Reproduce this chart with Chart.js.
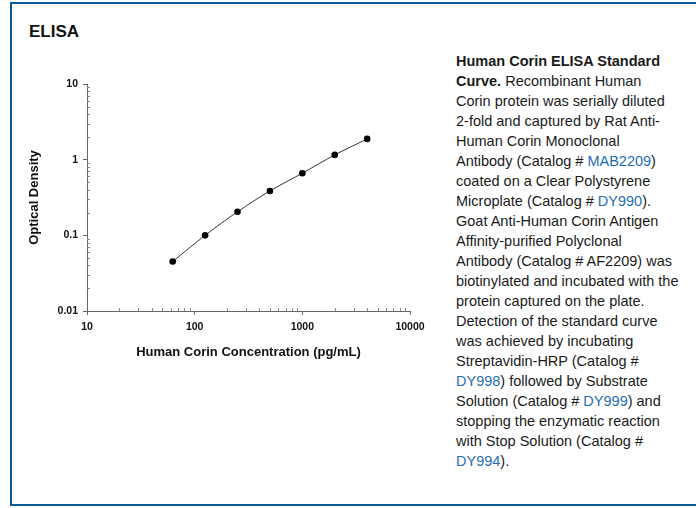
<!DOCTYPE html>
<html>
<head>
<meta charset="utf-8">
<script src="https://cdn.jsdelivr.net/npm/chart.js@4.4.1/dist/chart.umd.min.js"></script>
<style>
  html, body { margin:0; padding:0; background:#fff; }
  body { width:696px; height:508px; position:relative; overflow:hidden; font-family:"Liberation Sans", Arial, sans-serif; }
  #frame { position:absolute; left:10px; top:2px; width:760px; height:500px;
           border-left:2px solid #0a5a9b; border-top:2px solid #0a5a9b; border-bottom:2px solid #0a5a9b; }
  #title { position:absolute; left:29px; top:22px; font-size:17px; line-height:20px; font-weight:bold; color:#111; }
  #caption { position:absolute; left:456px; top:51px; font-size:14.5px; line-height:20px; color:#1a1a1a; white-space:nowrap; }
  #caption a { color:#1f6db4; text-decoration:none; }
  #wrap { position:absolute; left:0; top:0; width:440px; height:400px; }
</style>
</head>
<body>
<div id="frame"></div>
<div id="title">ELISA</div>
<div id="caption">
<b>Human Corin ELISA Standard<br>Curve.</b> Recombinant Human<br>
Corin protein was serially diluted<br>
2-fold and captured by Rat Anti-<br>
Human Corin Monoclonal<br>
Antibody (Catalog # <a>MAB2209</a>)<br>
coated on a Clear Polystyrene<br>
Microplate (Catalog # <a>DY990</a>).<br>
Goat Anti-Human Corin Antigen<br>
Affinity-purified Polyclonal<br>
Antibody (Catalog # AF2209) was<br>
biotinylated and incubated with the<br>
protein captured on the plate.<br>
Detection of the standard curve<br>
was achieved by incubating<br>
Streptavidin-HRP (Catalog #<br>
<a>DY998</a>) followed by Substrate<br>
Solution (Catalog # <a>DY999</a>) and<br>
stopping the enzymatic reaction<br>
with Stop Solution (Catalog #<br>
<a>DY994</a>).
</div>
<div id="wrap"><canvas id="c" width="440" height="400"></canvas></div>
<script>
// Data
const concentrations = [62.5, 125, 250, 500, 1000, 2000, 4000];
const opticalDensity = [0.045, 0.100, 0.205, 0.386, 0.662, 1.156, 1.88];
const xTicks = [10, 100, 1000, 10000];
const xTickLabels = ['10', '100', '1000', '10000'];
const yTicks = [0.01, 0.1, 1, 10];
const yTickLabels = ['0.01', '0.1', '1', '10'];
const xTitle = 'Human Corin Concentration (pg/mL)';
const yTitle = 'Optical Density';

const tickFont = { family: "'Liberation Sans', Arial, sans-serif", size: 10.5, weight: 'bold' };
const titleFont = { family: "'Liberation Sans', Arial, sans-serif", size: 13, weight: 'bold' };
const axisColor = '#666';

function labelFor(list, labels, v) {
  const i = list.findIndex(t => Math.abs(v - t) / t < 1e-6);
  return i >= 0 ? labels[i] : '';
}

const minorTicks = {
  id: 'minorTicks',
  afterDraw(chart) {
    const { ctx, scales: { x, y } } = chart;
    ctx.save();
    ctx.strokeStyle = '#888';
    ctx.lineWidth = 1;
    ctx.beginPath();
    for (let i = 0; i < yTicks.length - 1; i++) {
      for (let m = 2; m <= 9; m++) {
        const py = Math.round(y.getPixelForValue(m * yTicks[i])) + 0.5;
        ctx.moveTo(y.right, py); ctx.lineTo(y.right + 3, py);
      }
    }
    for (let i = 0; i < xTicks.length - 1; i++) {
      for (let m = 2; m <= 9; m++) {
        const px = Math.round(x.getPixelForValue(m * xTicks[i])) + 0.5;
        ctx.moveTo(px, x.top); ctx.lineTo(px, x.top - 3);
      }
    }
    ctx.stroke();
    ctx.restore();
  }
};

new Chart(document.getElementById('c'), {
  type: 'scatter',
  data: {
    datasets: [{
      data: concentrations.map((c, i) => ({ x: c, y: opticalDensity[i] })),
      showLine: true,
      tension: 0.35,
      borderColor: '#333',
      borderWidth: 1,
      pointRadius: 3.3,
      pointBackgroundColor: '#000',
      pointBorderWidth: 0,
      pointHoverRadius: 3.3
    }]
  },
  options: {
    responsive: false,
    animation: false,
    devicePixelRatio: 1,
    layout: { padding: { top: 84, right: 30, left: 0, bottom: 0 } },
    plugins: { legend: { display: false }, tooltip: { enabled: false } },
    scales: {
      x: {
        type: 'logarithmic', min: 10, max: 10000,
        afterBuildTicks: s => { s.ticks = xTicks.map(v => ({ value: v })); },
        afterFit: s => { s.height = 89; },
        ticks: { autoSkip: false, maxRotation: 0, padding: 6, color: '#111', font: tickFont,
                 callback: v => labelFor(xTicks, xTickLabels, v) },
        grid: { drawOnChartArea: false, drawTicks: true, tickLength: 4, color: axisColor },
        border: { color: axisColor, width: 1 },
        title: { display: true, text: xTitle, color: '#111', font: titleFont, padding: { top: 0, bottom: 40 } }
      },
      y: {
        type: 'logarithmic', min: 0.01, max: 10,
        afterBuildTicks: s => { s.ticks = yTicks.map(v => ({ value: v })); },
        afterFit: s => { s.width = 87; },
        ticks: { autoSkip: false, padding: 5, color: '#111', font: tickFont,
                 callback: v => labelFor(yTicks, yTickLabels, v) },
        grid: { drawOnChartArea: false, drawTicks: true, tickLength: 4, color: axisColor },
        border: { color: axisColor, width: 1 },
        title: { display: true, text: yTitle, color: '#111', font: titleFont, padding: { top: 27, bottom: 0 } }
      }
    }
  },
  plugins: [minorTicks]
});
</script>
</body>
</html>
